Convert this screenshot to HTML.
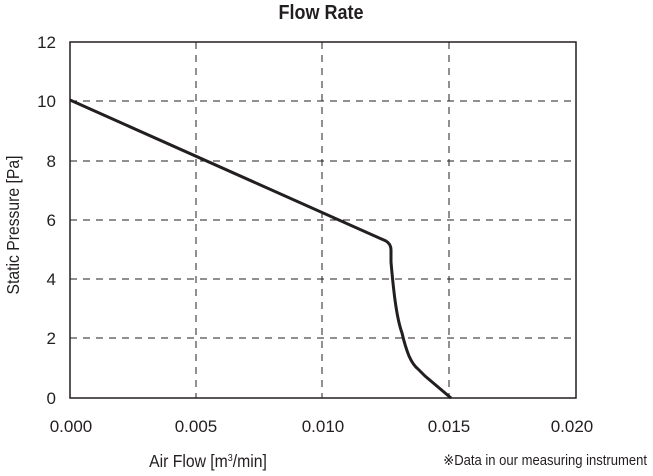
<!DOCTYPE html>
<html><head><style>
body{margin:0;background:#fff;}
svg text{font-family:"Liberation Sans",sans-serif;fill:#231f20;}
</style></head><body>
<svg width="653" height="471" xmlns="http://www.w3.org/2000/svg">
<text x="321" y="19" font-size="20" font-weight="bold" text-anchor="middle" transform="translate(321,0) scale(0.9,1) translate(-321,0)">Flow Rate</text>
<g stroke="#231f20" stroke-width="1" stroke-dasharray="7,6">
<line x1="196" y1="42" x2="196" y2="398"/>
<line x1="322" y1="42" x2="322" y2="398"/>
<line x1="449" y1="42" x2="449" y2="398"/>
<line x1="70" y1="101" x2="576" y2="101"/>
<line x1="70" y1="161" x2="576" y2="161"/>
<line x1="70" y1="220" x2="576" y2="220"/>
<line x1="70" y1="279" x2="576" y2="279"/>
<line x1="70" y1="338" x2="576" y2="338"/>
</g>
<rect x="70" y="42" width="506" height="356" fill="none" stroke="#231f20" stroke-width="1.5"/>
<path d="M70,100 L386,241 Q391,244 391,250 L391,262 Q393,285 395,300 Q398,322 402,333 Q405,346 409,356 Q413,365 418,369 L425,376 L451,398" fill="none" stroke="#231f20" stroke-width="3" stroke-linejoin="round"/>
<g font-size="17" text-anchor="end">
<text x="56" y="48">12</text><text x="56" y="107">10</text><text x="56" y="167">8</text>
<text x="56" y="226">6</text><text x="56" y="285">4</text><text x="56" y="344">2</text><text x="56" y="404">0</text>
</g>
<g font-size="17" text-anchor="middle">
<text x="71" y="432">0.000</text><text x="196" y="432">0.005</text><text x="323" y="432">0.010</text>
<text x="449" y="432">0.015</text><text x="572" y="432">0.020</text>
</g>
<text x="208" y="467" font-size="17.5" text-anchor="middle" transform="translate(208,0) scale(0.9,1) translate(-208,0)">Air Flow [m<tspan font-size="10" dy="-6">3</tspan><tspan dy="6">/min]</tspan></text>
<text x="647" y="465" font-size="14.5" text-anchor="end" transform="translate(647,0) scale(0.9,1) translate(-647,0)">※Data in our measuring instrument</text>
<text transform="translate(19,225) rotate(-90) scale(0.9,1)" font-size="17.5" text-anchor="middle">Static Pressure [Pa]</text>
</svg>
</body></html>
